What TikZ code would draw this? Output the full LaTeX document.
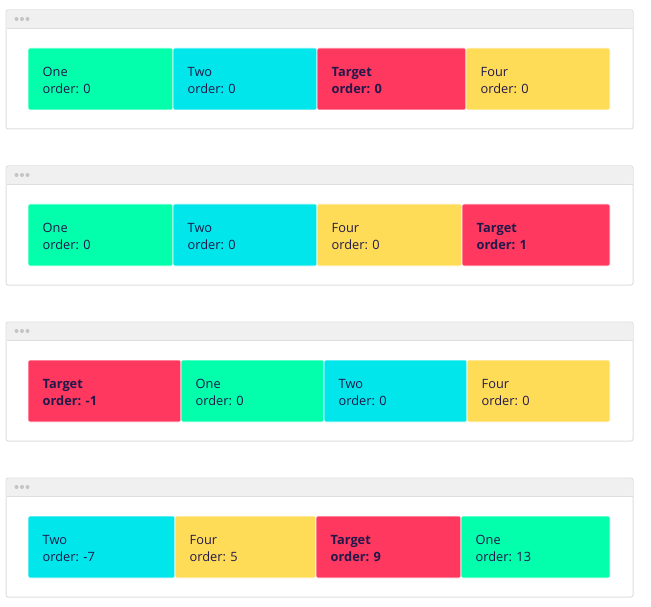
\documentclass[tikz,border=0pt]{standalone}
\usepackage{fontspec}
\setmainfont{Open Sans}
\definecolor{cgreen}{HTML}{03FFAC}
\definecolor{ccyan}{HTML}{00E6EB}
\definecolor{cred}{HTML}{FF3860}
\definecolor{cyellow}{HTML}{FFDC57}
\definecolor{ctext}{HTML}{22184A}
\definecolor{chead}{HTML}{F0F0F0}
\definecolor{cborder}{HTML}{DEDEDE}
\definecolor{cdot}{HTML}{C4C4C4}
\tikzset{
  panel/.style={draw=cborder, line width=1pt, fill=white, rounded corners=2pt},
  header/.style={fill=chead},
  itembox/.style={draw=white, line width=0.6pt, rounded corners=2pt},
  itemtext/.style={anchor=west, align=left, text=ctext, inner sep=0pt,
    font=\fontsize{12.8}{17}\selectfont},
  dot/.style={fill=cdot, draw=none}
}
\newcommand{\panelat}[2]{% #1 name, #2 top y
  \draw[panel] (6,#2) rectangle (633,#2+119);
  \fill[header, rounded corners=2pt] (6.5,#2+0.5) rectangle (632.5,#2+18);
  \draw[cborder, line width=0.8pt] (6.5,#2+18) -- (632.5,#2+18);
  \fill[dot] (16.5,#2+9) circle (2pt);
  \fill[dot] (22,#2+9) circle (2pt);
  \fill[dot] (27.5,#2+9) circle (2pt);
}
\newcommand{\itemat}[7]{% #1 name #2 x1 #3 x2 #4 y #5 colour #6 title #7 order
  \draw[itembox, fill=#5] (#2,#4) rectangle (#3,#4+62);
  \node[itemtext] (#1) at (#2+14.5,#4+32.5) {#6\\#7};
}
\begin{document}
\begin{tikzpicture}[x=1pt,y=-1pt]
\useasboundingbox (0,0) rectangle (651,607);
% panel 1
\panelat{p1}{10}
\itemat{a1}{28}{173}{48}{cgreen}{One}{order: 0}
\itemat{a2}{173}{317}{48}{ccyan}{Two}{order: 0}
\itemat{a3}{317}{466}{48}{cred}{\textbf{Target}}{\textbf{order: 0}}
\itemat{a4}{466}{610}{48}{cyellow}{Four}{order: 0}
% panel 2
\panelat{p2}{166}
\itemat{b1}{28}{173}{204}{cgreen}{One}{order: 0}
\itemat{b2}{173}{317}{204}{ccyan}{Two}{order: 0}
\itemat{b3}{317}{462}{204}{cyellow}{Four}{order: 0}
\itemat{b4}{462}{610}{204}{cred}{\textbf{Target}}{\textbf{order: 1}}
% panel 3
\panelat{p3}{322}
\itemat{c1}{28}{181}{360}{cred}{\textbf{Target}}{\textbf{order: -1}}
\itemat{c2}{181}{324}{360}{cgreen}{One}{order: 0}
\itemat{c3}{324}{467}{360}{ccyan}{Two}{order: 0}
\itemat{c4}{467}{610}{360}{cyellow}{Four}{order: 0}
% panel 4
\panelat{p4}{478}
\itemat{d1}{28}{175}{516}{ccyan}{Two}{order: -7}
\itemat{d2}{175}{316}{516}{cyellow}{Four}{order: 5}
\itemat{d3}{316}{461}{516}{cred}{\textbf{Target}}{\textbf{order: 9}}
\itemat{d4}{461}{610}{516}{cgreen}{One}{order: 13}
\end{tikzpicture}
\end{document}
